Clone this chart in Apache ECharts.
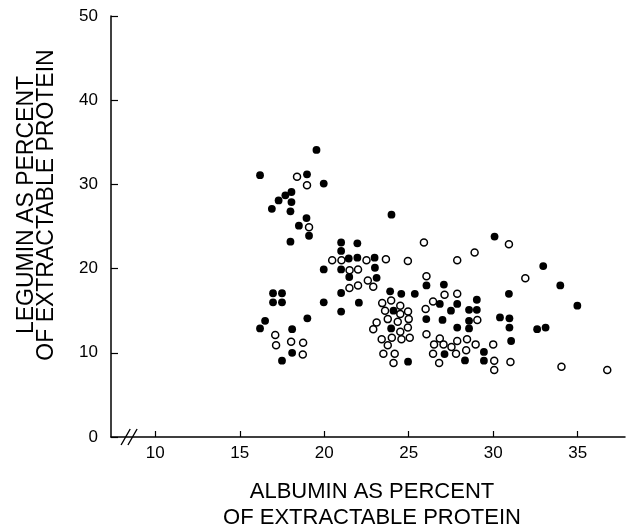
<!DOCTYPE html>
<html>
<head>
<meta charset="utf-8">
<title>Legumin vs Albumin</title>
<script src="https://cdn.jsdelivr.net/npm/echarts@6/dist/echarts.min.js"></script>
<style>
  html, body { margin: 0; padding: 0; background: #fff; }
  #chart { width: 628px; height: 532px; }
</style>
</head>
<body>
<div id="chart"></div>
<script>
// albumin %, legumin % (filled circles)
const filledPoints = [
  [16.2, 31.1], [18.98, 31.2], [19.97, 30.1], [18.06, 29.1], [17.7, 28.7], [17.3, 28.1],
  [18.06, 27.9], [16.9, 27.1], [18.0, 26.8], [18.95, 26.0], [18.5, 25.1], [19.1, 23.9],
  [18.0, 23.2], [19.54, 34.1],
  [16.97, 17.07], [17.5, 17.07], [16.97, 16.0], [17.5, 16.0], [19.97, 16.0], [21.0, 17.1],
  [21.0, 14.9], [16.5, 13.8], [16.2, 12.9], [19.0, 14.1], [18.1, 12.8], [18.1, 10.0],
  [17.5, 9.06], [19.97, 19.9],
  [23.98, 26.4], [21.0, 23.1], [21.96, 23.0], [21.0, 22.1], [21.45, 21.2], [21.96, 21.3],
  [22.98, 21.3], [21.0, 19.9], [23.0, 20.1], [21.48, 19.0], [23.1, 18.9], [22.05, 15.95],
  [23.9, 17.3], [24.56, 17.0], [25.36, 17.0], [26.05, 18.0], [27.08, 18.1], [27.87, 15.8],
  [26.84, 15.8], [27.5, 15.0], [26.04, 14.0], [27.0, 13.9], [27.87, 13.0], [27.12, 9.85],
  [24.96, 8.95], [24.1, 15.0], [23.96, 12.9],
  [30.08, 23.8], [32.96, 20.3], [33.97, 18.0], [30.93, 17.0], [34.98, 15.6], [29.03, 16.3],
  [28.57, 15.1], [29.03, 15.1], [28.57, 13.8], [28.57, 12.9], [30.4, 14.2], [30.96, 14.1],
  [30.96, 13.0], [32.6, 12.8], [33.1, 13.0], [31.06, 11.4], [29.45, 10.1], [28.33, 9.1],
  [29.45, 9.06]
]

// albumin %, legumin % (open circles)
const openPoints = [
  [18.39, 30.9], [18.98, 29.9], [19.1, 24.9],
  [17.1, 12.1], [17.15, 10.9], [18.04, 11.3], [18.75, 11.2], [18.73, 9.8],
  [25.9, 23.1], [20.47, 21.0], [21.02, 21.0], [22.5, 21.0], [23.65, 21.1], [24.95, 20.9],
  [27.87, 21.0], [21.5, 19.8], [22.0, 19.9], [22.58, 18.6], [21.49, 17.7], [22.0, 18.0],
  [22.9, 17.85],
  [26.05, 19.1], [27.12, 16.9], [27.87, 17.0], [26.44, 16.1], [26.0, 15.2], [26.05, 12.2],
  [26.84, 11.7], [26.5, 11.0], [27.06, 11.0], [27.87, 11.4], [27.53, 10.7], [26.44, 9.9],
  [27.8, 9.9], [26.8, 8.8],
  [23.43, 15.9], [23.96, 16.2], [24.5, 15.6], [24.96, 14.9], [23.6, 15.0], [24.5, 14.6],
  [23.76, 14.0], [24.35, 13.7], [25.0, 14.0], [23.1, 13.6], [22.9, 12.8], [24.5, 12.5],
  [24.95, 13.0], [23.4, 11.6], [24.0, 11.8], [24.57, 11.6], [25.06, 11.8], [23.76, 10.9],
  [23.5, 9.9], [24.17, 9.9], [24.1, 8.8],
  [30.93, 22.9], [28.9, 21.9], [31.9, 18.85], [29.06, 13.9], [28.45, 11.6], [28.96, 11.0],
  [28.4, 10.3], [30.0, 11.0], [30.06, 9.06], [30.06, 7.96], [31.02, 8.9], [34.04, 8.35],
  [36.75, 7.96]
]

const xTicks = [10, 15, 20, 25, 30, 35]
const yTicks = [0, 10, 20, 30, 40, 50]
const axisBreak = [[8.45, 0]]

const xTitle = 'ALBUMIN AS PERCENT\nOF EXTRACTABLE PROTEIN'
const yTitle = 'LEGUMIN AS PERCENT\nOF EXTRACTABLE PROTEIN'

const font = '"Liberation Sans", Arial, sans-serif'
const myChart = echarts.init(document.getElementById('chart'))

const option = {
  animation: false,
  backgroundColor: '#fff',
  grid: { left: 111, right: 3, top: 16, bottom: 95 },
  xAxis: {
    type: 'value',
    min: 7.38,
    max: 37.8,
    axisLine: { lineStyle: { color: '#000', width: 1.5 } },
    axisTick: { inside: true, length: 6, customValues: xTicks, lineStyle: { color: '#000', width: 1.2 } },
    axisLabel: { customValues: xTicks, color: '#000', fontSize: 17, fontFamily: font, margin: 8 },
    splitLine: { show: false }
  },
  yAxis: {
    type: 'value',
    min: yTicks[0],
    max: yTicks[yTicks.length - 1],
    interval: 10,
    axisLine: { show: true, lineStyle: { color: '#000', width: 1.5 } },
    axisTick: { show: true, inside: true, length: 7, lineStyle: { color: '#000', width: 1.2 } },
    axisLabel: { color: '#000', fontSize: 17, fontFamily: font, margin: 13 },
    splitLine: { show: false }
  },
  graphic: [
    {
      type: 'text',
      x: 37,
      y: 205,
      rotation: Math.PI / 2,
      style: {
        text: yTitle, fill: '#000', fontSize: 23, fontFamily: font,
        align: 'center', verticalAlign: 'middle', lineHeight: 20
      }
    },
    {
      type: 'text',
      x: 372,
      y: 505,
      style: {
        text: xTitle, fill: '#000', fontSize: 22, fontFamily: font,
        align: 'center', verticalAlign: 'middle', lineHeight: 26
      }
    }
  ],
  series: [
    {
      name: 'filled',
      type: 'scatter',
      data: filledPoints,
      symbol: 'circle',
      symbolSize: 7.8,
      itemStyle: { color: '#000', opacity: 1 }
    },
    {
      name: 'open',
      type: 'scatter',
      data: openPoints,
      symbol: 'circle',
      symbolSize: 7,
      itemStyle: { color: '#fff', borderColor: '#000', borderWidth: 1.5, opacity: 1 }
    },
    {
      // axis break mark "//"
      name: 'break',
      type: 'scatter',
      data: axisBreak,
      symbol: 'path://M0,16 L8,0 M6,16 L14,0',
      symbolSize: [16, 16],
      silent: true,
      itemStyle: { color: 'none', borderColor: '#000', borderWidth: 1.4, opacity: 1 }
    }
  ]
}

myChart.setOption(option)
</script>
</body>
</html>
